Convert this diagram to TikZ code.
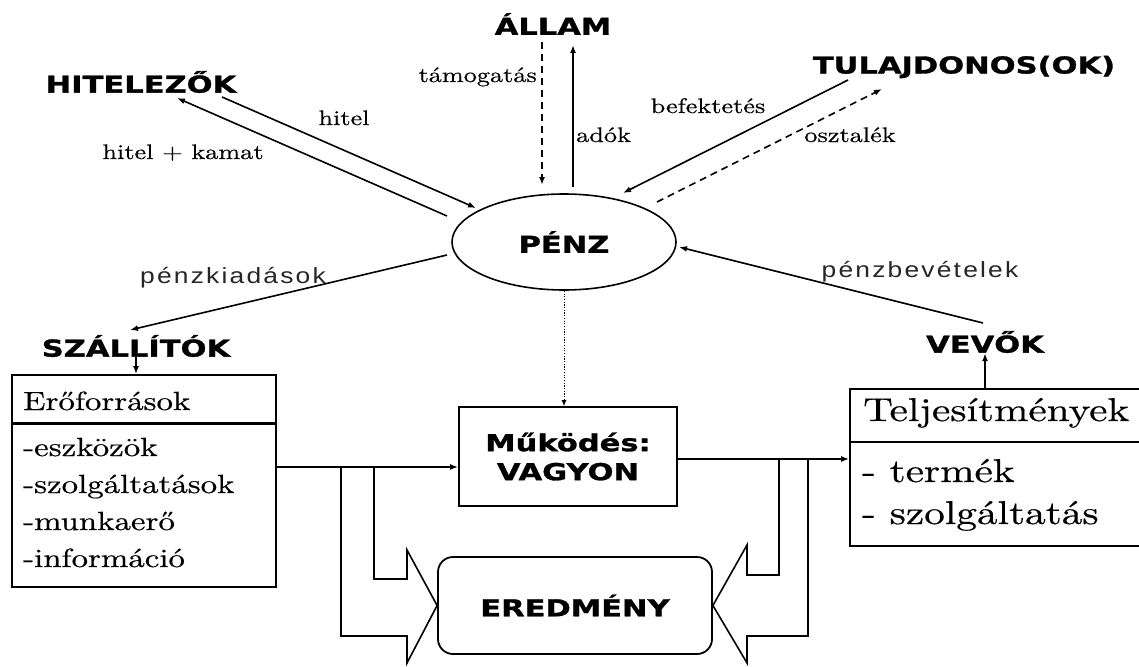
\documentclass[tikz,border=0pt]{standalone}
\usepackage{fontspec}
\usetikzlibrary{arrows.meta,calc,shapes.geometric}
\newfontfamily\heavyfont{DejaVu Sans Bold}[FakeStretch=1.31,FakeBold=1.3]
\newfontfamily\garfont{lmroman10-regular}[Extension=.otf,FakeStretch=1.25,FakeBold=0.5]
\newfontfamily\lsfont{Liberation Sans}[FakeStretch=1.2,LetterSpace=10]
\begin{document}
\begin{tikzpicture}[x=1pt,y=-1pt,
  heavy/.style={font=\heavyfont\fontsize{23.3}{29}\selectfont},
  lbl/.style={heavy, inner sep=0pt},
  sm/.style={font=\garfont\fontsize{21}{24}\selectfont, inner sep=0pt},
  sans/.style={font=\lsfont\fontsize{22}{26}\selectfont, text=black!85, inner sep=0pt},
  hdr/.style={font=\garfont\fontsize{26.3}{30}\selectfont, inner sep=0pt, anchor=base west},
  big/.style={font=\garfont\fontsize{33}{38}\selectfont, inner sep=0pt, anchor=base west},
  ln/.style={line width=1.6pt},
  arr/.style={ln, -{Latex[length=8pt,width=6pt]}},
  dsh/.style={arr, dash pattern=on 7pt off 5pt},
  dotarr/.style={line width=0.9pt, dash pattern=on 1.2pt off 1.5pt, -{Latex[length=6pt,width=5pt]}},
  box/.style={draw, line width=1.8pt, inner sep=0pt},
]
\useasboundingbox (0,0) rectangle (1139,666);
\fill[white] (0,0) rectangle (1139,666);
\clip (0,0) rectangle (1139,666);

% top labels
\node[lbl] (allam) at (553,24) {ÁLLAM};
\node[lbl] (hitel) at (141,82) {HITELEZŐK};
\node[lbl] (tulaj) at (964,67) {TULAJDONOS(OK)};
\node[lbl] (szall) at (136,346) {SZÁLLÍTÓK};
\node[lbl] (vevok) at (985,342) {VEVŐK};

% PENZ
\node[draw, ellipse, ln, heavy, minimum width=224pt, minimum height=96pt, inner sep=0pt] (penz) at (564,242) {PÉNZ};

% Eroforrasok box
\node[box, minimum width=264pt, minimum height=212pt] (ero) at (144,481) {};
\draw[line width=3.2pt] ($(ero.north west)+(0,49)$) -- ($(ero.north east)+(0,49)$);
\node[hdr] (eroh) at (23,410) {Erőforrások};
\node[hdr] (e1) at (23,456) {-eszközök};
\node[hdr] (e2) at (23,493) {-szolgáltatások};
\node[hdr] (e3) at (23,530) {-munkaerő};
\node[hdr] (e4) at (23,567) {-információ};

% Mukodes box
\node[box, heavy, align=center, minimum width=218pt, minimum height=99pt] (muk) at (568,456.5) {Működés:\\VAGYON};

% Eredmeny box
\node[box, heavy, rounded corners=15pt, minimum width=274pt, minimum height=97pt] (ered) at (575,605.5) {EREDMÉNY};

% Teljesitmenyek box
\node[box, minimum width=300pt, minimum height=157pt] (telj) at (1000,467.5) {};
\draw[line width=1.8pt] ($(telj.north west)+(0,54)$) -- ($(telj.north east)+(0,54)$);
\node[big] (teljh) at (863,421) {Teljesítmények};
\node[big] (t1) at (862,482) {- termék};
\node[big] (t2) at (862,524) {- szolgáltatás};

% small labels
\node[sm, anchor=base east] (ltam) at (537,82) {támogatás};
\node[sm, anchor=base west] (lado) at (576,142) {adók};
\node[sm, anchor=base] (lhit) at (344,125) {hitel};
\node[sm, anchor=base] (lhk) at (183,159) {hitel + kamat};
\node[sm, anchor=base] (lbef) at (708,113) {befektetés};
\node[sm, anchor=base] (losz) at (850,142) {osztalék};
\node[sans, anchor=base] (lki) at (233,283) {pénzkiadások};
\node[sans, anchor=base] (lbe) at (920,277) {pénzbevételek};

% connectors around PENZ
\draw[dsh] ($(allam)+(-11,18)$) -- ($(penz)+(-22,-57)$);
\draw[arr] ($(penz)+(9,-55)$) -- ($(allam)+(20,21)$);
\draw[arr] ($(hitel)+(81,15)$) -- ($(penz)+(-88,-34)$);
\draw[arr] ($(penz)+(-117,-26)$) -- ($(hitel)+(36,16)$);
\draw[arr] ($(tulaj)+(-116,13)$) -- ($(penz)+(59,-49)$);
\draw[dsh] ($(penz)+(93,-40)$) -- ($(tulaj)+(-82,22)$);
\draw[arr] ($(penz)+(-117,13)$) -- ($(szall)+(-6,-16)$);
\draw[arr] ($(vevok)+(-2,-19)$) -- ($(penz)+(115,5)$);
\draw[dotarr] (penz.south) -- (penz.south |- muk.north);

% small vertical arrows
\draw[arr] (szall.south) -- (szall.south |- ero.north);
\draw[arr] (vevok.south |- telj.north) -- (vevok.south);

% flow
\coordinate (ein) at ($(ero.east)+(0,-14)$);
\draw[arr] (ein) -- (ein -| muk.west);
\coordinate (mout) at ($(muk.east)+(0,2.5)$);
\draw[arr] (mout) -- (mout -| telj.west);

% block arrows into EREDMENY
\draw[ln] (341,467) -- (341,636) -- (407,636) -- (407,663) -- (ered.west) -- (407,550) -- (407,579) -- (374,579) -- (374,467);
\draw[ln] (808,459) -- (808,636) -- (747,636) -- (747,663) -- (ered.east) -- (747,545) -- (747,575) -- (779,575) -- (779,459);
\end{tikzpicture}
\end{document}
